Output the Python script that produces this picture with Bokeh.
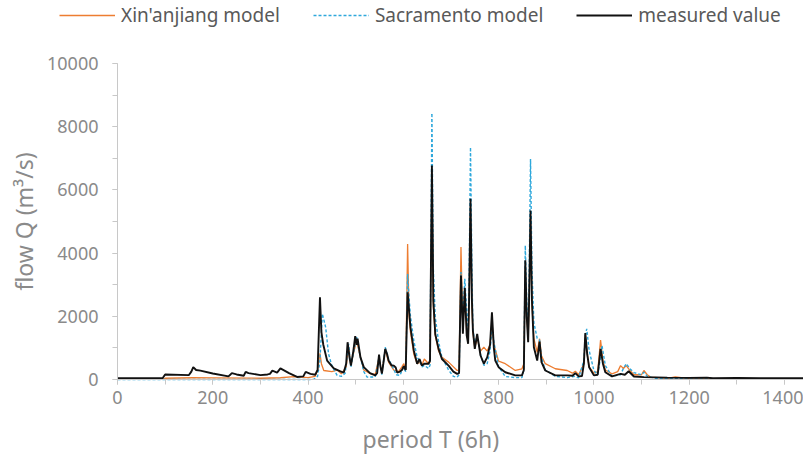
from bokeh.plotting import figure
from bokeh.models import Range1d, SingleIntervalTicker, Legend, LegendItem, Title
from bokeh.embed import file_html
from bokeh.resources import INLINE

# ---- data (period T in 6h steps, flow Q in m3/s) ----
t_meas = [0, 50, 95, 100, 150, 155, 159, 165, 174, 200, 233, 236, 240, 250, 265, 269, 275,
          300, 315, 320, 325, 335, 342, 360, 377, 390, 395, 405, 415, 420, 425, 428, 432,
          440, 454, 468, 475, 480, 483, 487, 490, 495, 499, 502, 504, 510, 517, 530, 541,
          545, 549, 552, 555, 558, 562, 566, 569, 575, 580, 584, 587, 593, 597, 601, 605,
          609, 612, 615, 622, 629, 634, 639, 644, 653, 656, 660, 663, 667, 674, 681, 695,
          705, 713, 717, 721, 725, 729, 733, 736, 738, 741, 744, 746, 750, 755, 762, 769,
          776, 782, 786, 790, 793, 800, 814, 835, 849, 853, 856, 859, 862, 864, 867, 870,
          874, 881, 886, 890, 898, 919, 944, 955, 961, 968, 975, 979, 982, 986, 990, 1000,
          1008, 1014, 1019, 1024, 1038, 1056, 1065, 1073, 1084, 1105, 1154, 1200, 1237,
          1250, 1300, 1350, 1400, 1440]
q_meas = [40, 40, 45, 160, 140, 250, 390, 300, 280, 190, 100, 140, 200, 160, 120, 240, 200,
          140, 160, 180, 280, 220, 350, 200, 80, 100, 240, 180, 150, 300, 2600, 1500, 1100,
          600, 350, 260, 220, 500, 1180, 700, 440, 900, 1370, 1100, 1290, 700, 390, 200, 130,
          200, 790, 400, 190, 500, 970, 800, 600, 450, 440, 380, 220, 250, 300, 420, 300,
          2760, 2200, 1650, 920, 500, 650, 440, 500, 500, 600, 6770, 2500, 1440, 970, 650, 440,
          250, 180, 200, 3290, 1450, 2900, 1400, 1130, 2500, 5720, 2500, 1550, 970, 1440, 760, 500,
          700, 1100, 2130, 1000, 600, 390, 230, 130, 130, 300, 3770, 2000, 1180, 2500, 5350, 2500,
          1020, 600, 1200, 550, 285, 130, 130, 120, 200, 100, 110, 500, 1470, 800, 390, 130,
          150, 970, 500, 230, 100, 180, 150, 260, 95, 75, 60, 50, 60,
          40, 50, 40, 40, 40]

t_xaj = [0, 95, 100, 159, 200, 300, 342, 370, 400, 415, 420, 425, 428, 433, 450, 461, 470,
         480, 485, 490, 495, 502, 507, 517, 530, 541, 549, 555, 562, 569, 580, 590, 597, 601,
         605, 609, 612, 615, 622, 629, 634, 639, 644, 653, 656, 660, 663, 667, 674, 681, 695,
         713, 717, 721, 725, 729, 733, 736, 738, 741, 744, 746, 750, 755, 762, 769, 776, 782,
         786, 790, 800, 814, 835, 849, 853, 856, 859, 862, 864, 867, 870, 874, 881, 886, 890,
         898, 919, 944, 955, 961, 968, 979, 982, 986, 990, 1000, 1008, 1014, 1019, 1024, 1038,
         1050, 1056, 1062, 1068, 1075, 1084, 1100, 1105, 1112, 1119, 1154, 1171, 1200, 1250,
         1300, 1440]
q_xaj = [10, 10, 40, 55, 50, 40, 55, 90, 60, 100, 300, 830, 500, 285, 250, 300, 180,
         400, 1020, 450, 800, 1230, 900, 300, 190, 160, 700, 200, 950, 550, 300, 250, 400, 500,
         300, 4290, 2000, 1500, 800, 500, 550, 450, 650, 500, 550, 6500, 2300, 1400, 900, 700, 550,
         285, 300, 4190, 1600, 2800, 1500, 1200, 2300, 5400, 2300, 1500, 1000, 1300, 900, 1020, 900, 1100,
         1800, 1100, 580, 500, 285, 340, 500, 3550, 2000, 1300, 2400, 5100, 2400, 1300, 860, 1290, 750,
         500, 340, 285, 200, 260, 150, 500, 1400, 800, 400, 200, 250, 1250, 600, 300, 180,
         250, 440, 350, 440, 300, 150, 150, 285, 150, 75, 35, 80, 30, 20,
         15, 10]

t_sac = [0, 400, 412, 420, 425, 430, 437, 443, 450, 461, 470, 478, 485, 490, 496, 502, 507,
         517, 524, 541, 549, 555, 562, 569, 578, 585, 593, 600, 605, 609, 612, 615, 622, 629,
         634, 639, 644, 653, 656, 660, 663, 667, 674, 681, 695, 705, 713, 717, 721, 725, 729,
         733, 736, 738, 741, 744, 746, 750, 755, 762, 769, 776, 782, 786, 790, 800, 814, 835,
         849, 853, 856, 859, 862, 864, 867, 870, 874, 881, 886, 890, 898, 919, 944, 961, 968,
         979, 982, 985, 990, 1000, 1008, 1014, 1017, 1024, 1038, 1056, 1062, 1068, 1075, 1084,
         1100, 1105, 1112, 1130, 1200, 1300, 1440]
q_sac = [0, 0, 5, 100, 600, 2080, 1650, 810, 440, 130, 100, 200, 1130, 400, 900, 1340, 900,
         250, 75, 80, 700, 150, 1020, 650, 390, 150, 130, 390, 250, 3340, 2600, 2000, 1230, 700,
         600, 400, 450, 350, 450, 8430, 3500, 1970, 1200, 700, 300, 100, 75, 150, 3400, 1800, 3190,
         2200, 1500, 3000, 7350, 3500, 1650, 1100, 1400, 800, 450, 500, 900, 1650, 1200, 400, 95, 60,
         60, 300, 4240, 2500, 1500, 3000, 6980, 3500, 1800, 1300, 1250, 700, 300, 100, 60, 100, 50,
         600, 1400, 1600, 920, 285, 150, 700, 1075, 440, 100, 150, 350, 500, 350, 220,
         150, 230, 100, 40, 20, 10, 5]

series_labels = ["Xin'anjiang model", "Sacramento model", "measured value"]
x_title = "period T (6h)"
y_title = "flow Q (m³/s)"
x_axis_max = 1440
y_axis_max = 10000

FONT = "Noto Sans"
C_XAJ = "#ED7D31"
C_SAC = "#2FA8DB"
C_MEAS = "#111111"

# plot geometry (pixels): axes meet at (117, 379); 10000 sits at y=63
W = 803
X0, Y0, YTOP = 117, 379, 63
EXTRA = 40                      # frame continues below the x axis (room for tick labels)
px_per_x = (W - X0) / x_axis_max
px_per_y = (Y0 - YTOP) / y_axis_max

p = figure(frame_width=W, frame_height=Y0 + EXTRA, output_backend="svg", toolbar_location=None,
           x_range=Range1d(-X0 / px_per_x, x_axis_max),
           y_range=Range1d(-EXTRA / px_per_y, Y0 / px_per_y),
           min_border_left=0, min_border_right=0, min_border_top=0, min_border_bottom=0,
           background_fill_color="white", border_fill_color="white")
p.outline_line_color = None
p.grid.visible = False

r_xaj = p.line(t_xaj, q_xaj, line_color=C_XAJ, line_width=1.3)
r_sac = p.line(t_sac, q_sac, line_color=C_SAC, line_width=1.4, line_dash="3 2")
r_meas = p.line(t_meas, q_meas, line_color=C_MEAS, line_width=1.9)

xa = p.xaxis[0]
xa.ticker = SingleIntervalTicker(interval=200, num_minor_ticks=2)
xa.bounds = (0, x_axis_max)
xa.fixed_location = 0
ya = p.yaxis[0]
ya.ticker = SingleIntervalTicker(interval=2000, num_minor_ticks=2)
ya.bounds = (0, y_axis_max)
ya.fixed_location = 0
for ax in (xa, ya):
    ax.axis_line_color = "#C8C8C8"
    ax.major_tick_line_color = "#C8C8C8"
    ax.minor_tick_line_color = "#C8C8C8"
    ax.major_tick_in = 0
    ax.major_tick_out = 5
    ax.minor_tick_in = 0
    ax.minor_tick_out = 5
    ax.major_label_text_font = FONT
    ax.major_label_text_font_size = "18px"
    ax.major_label_text_color = "#8A8A8A"
    ax.axis_label_text_font = FONT
    ax.axis_label_text_font_size = "23px"
    ax.axis_label_text_font_style = "normal"
    ax.axis_label_text_color = "#8A8A8A"
xa.major_label_standoff = 6
ya.major_label_standoff = 14
ya.axis_label = y_title
ya.axis_label_standoff = 4

p.add_layout(Title(text=x_title, align="left", offset=362, text_font=FONT,
                   text_font_size="23px", text_font_style="normal",
                   text_color="#8A8A8A", standoff=2), "below")

legend = Legend(items=[LegendItem(label=series_labels[0], renderers=[r_xaj]),
                       LegendItem(label=series_labels[1], renderers=[r_sac]),
                       LegendItem(label=series_labels[2], renderers=[r_meas])],
                orientation="horizontal", location=(59, Y0 + EXTRA - 28),
                glyph_width=56, glyph_height=20, label_height=20, label_standoff=6,
                spacing=33, padding=0, margin=0,
                border_line_alpha=0, background_fill_alpha=0,
                label_text_font=FONT, label_text_font_size="19px",
                label_text_color="#595959")
p.add_layout(legend, "center")

open("out.html", "w").write(file_html(p, INLINE))
